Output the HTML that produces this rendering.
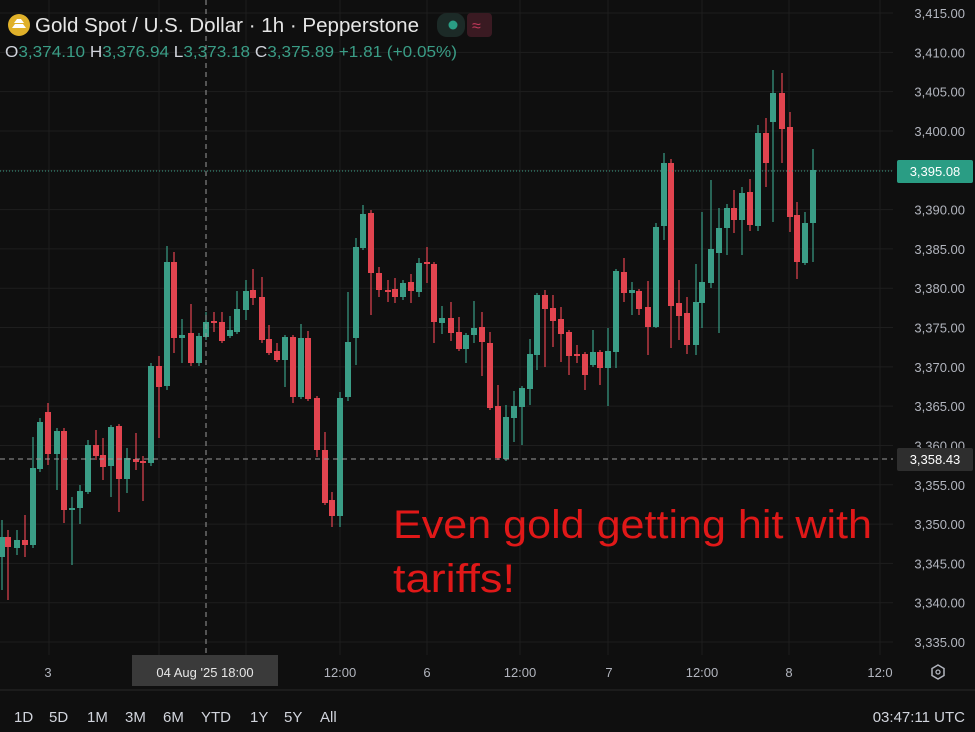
<!DOCTYPE html>
<html><head><meta charset="utf-8"><style>
body{margin:0;background:#0f0f0f;width:975px;height:732px;overflow:hidden;font-family:"Liberation Sans",sans-serif}
</style></head><body>
<svg width="975" height="732" xmlns="http://www.w3.org/2000/svg" style="position:absolute;left:0;top:0">
<rect width="975" height="732" fill="#0f0f0f"/>
<g id="grid" stroke="#1e1e1e" stroke-width="1"></g>
<g id="candles"></g>
<line x1="0" y1="171" x2="893" y2="171" stroke="#3a9d86" stroke-width="1" stroke-dasharray="1,2"/>
<line x1="0" y1="459" x2="893" y2="459" stroke="#9a9a9a" stroke-width="1" stroke-dasharray="5,4"/>
<line x1="206" y1="0" x2="206" y2="655" stroke="#9a9a9a" stroke-width="1" stroke-dasharray="5,4"/>
<g id="plabels" font-size="13" fill="#b2b5be"></g>
<rect x="897" y="160" width="76" height="23" rx="2" fill="#2a9d84"/>
<text x="935" y="176" font-size="13" fill="#fff" text-anchor="middle">3,395.08</text>
<rect x="897" y="448" width="76" height="23" rx="2" fill="#2e2e2e"/>
<text x="935" y="464" font-size="13" fill="#fff" text-anchor="middle">3,358.43</text>
<line x1="0" y1="690" x2="975" y2="690" stroke="#2a2a2a"/>
<g font-size="13" fill="#b2b5be" text-anchor="middle">
<text x="48" y="677">3</text><text x="340" y="677">12:00</text><text x="427" y="677">6</text>
<text x="520" y="677">12:00</text><text x="609" y="677">7</text><text x="702" y="677">12:00</text>
<text x="789" y="677">8</text><text x="880" y="677">12:0</text>
</g>
<rect x="132" y="655" width="146" height="31" fill="#3a3a3a"/>
<text x="205" y="677" font-size="13" fill="#e6e6e6" text-anchor="middle">04 Aug '25   18:00</text>
<polygon points="938,665 944,668.5 944,675.5 938,679 932,675.5 932,668.5" fill="none" stroke="#b2b5be" stroke-width="1.5"/>
<circle cx="938" cy="672" r="2" fill="none" stroke="#b2b5be" stroke-width="1.3"/>
<g font-size="15" fill="#d1d4dc">
<text x="14" y="722">1D</text><text x="49" y="722">5D</text><text x="87" y="722">1M</text><text x="125" y="722">3M</text>
<text x="163" y="722">6M</text><text x="201" y="722">YTD</text><text x="250" y="722">1Y</text><text x="284" y="722">5Y</text><text x="320" y="722">All</text>
<text x="965" y="722" text-anchor="end">03:47:11 UTC</text>
</g>
<circle cx="19" cy="25" r="11" fill="#e0b12a"/>
<path d="M12 28 L26 28 L23 24 L15 24 Z M14 23 L24 23 L21 19 L17 19 Z" fill="#fff"/>
<text x="35" y="32" font-size="20" fill="#e6e6e6" textLength="384" lengthAdjust="spacingAndGlyphs">Gold Spot / U.S. Dollar · 1h · Pepperstone</text>
<rect x="437" y="13" width="28" height="24" rx="10" fill="#1c2a27"/>
<circle cx="453" cy="25" r="4.5" fill="#2a9d84"/>
<rect x="467" y="13" width="25" height="24" rx="4" fill="#3a1a22"/>
<text x="472" y="31" font-size="16" fill="#c0385a">≈</text>
<text x="5" y="57" font-size="16" fill="#3a9d86" textLength="452" lengthAdjust="spacingAndGlyphs"><tspan fill="#d1d4dc">O</tspan>3,374.10 <tspan fill="#d1d4dc">H</tspan>3,376.94 <tspan fill="#d1d4dc">L</tspan>3,373.18 <tspan fill="#d1d4dc">C</tspan>3,375.89 +1.81 (+0.05%)</text>
<text x="393" y="538" font-size="40" fill="#e01818" textLength="479" lengthAdjust="spacingAndGlyphs">Even gold getting hit with</text>
<text x="393" y="592" font-size="40" fill="#e01818" textLength="122" lengthAdjust="spacingAndGlyphs">tariffs!</text>
</svg>
<script>
var ns="http://www.w3.org/2000/svg";
function el(p,t,a){var e=document.createElementNS(ns,t);for(var k in a)e.setAttribute(k,a[k]);p.appendChild(e);return e;}
var g=document.getElementById('grid'),pl=document.getElementById('plabels');
[49,159,246,340,427,520,608,702,789,880].forEach(function(x){el(g,'line',{x1:x,y1:0,x2:x,y2:655});});
for(var i=0;i<=16;i++){var p=3415-5*i,y=13+i*39.3125;el(g,'line',{x1:0,y1:y,x2:893,y2:y});
var t=el(pl,'text',{x:965,y:y+5,'text-anchor':'end'});t.textContent=(p+'').replace(/(\d)(\d{3})$/,'$1,$2')+'.00';}
var D=[[2,557,537,520,590],[8,537,547,530,600],[17,548,540,530,555],[25,540,545,515,557],[33,545,468,437,548],[40,469,422,418,472],[48,412,454,403,465],[57,454,431,428,490],[64,431,510,428,523],[72,509,508,497,565],[80,508,491,485,524],[88,492,445,440,494],[96,445,456,430,460],[103,455,467,438,480],[111,466,427,425,497],[119,426,479,424,512],[127,479,458,448,493],[136,459,462,433,470],[143,461,463,456,501],[151,463,366,363,466],
[159,366,387,356,438],[167,386,262,246,390],[174,262,338,252,353],[182,338,335,319,363],[191,333,363,304,366],[199,363,336,333,366],[206,337,322,312,340],[214,321,321,312,332],[222,322,341,312,343],[230,336,330,316,338],[237,332,309,291,334],[246,310,291,280,320],[253,290,298,269,305],[262,297,340,277,343],[269,339,353,325,355],[277,351,360,343,362],[285,360,337,335,387],[293,337,397,335,403],[301,397,338,324,399],[308,338,399,331,401],[317,398,450,396,457],[325,450,503,432,505],[332,500,516,492,527],[340,516,398,392,527],[348,397,342,292,401],[356,338,247,238,365],[363,248,214,205,250],[371,213,273,210,315],
[379,273,290,267,297],[388,290,290,280,302],[395,289,297,278,303],[403,297,283,280,300],[411,282,291,274,303],[419,292,263,258,297],[427,262,262,247,283],[434,264,322,262,343],[442,323,318,306,334],[451,318,333,302,341],[459,332,349,317,351],[466,349,335,333,363],[474,335,328,301,343],[482,327,342,312,376],[490,343,408,332,410],[498,406,458,385,460],[506,459,417,405,461],[514,418,406,391,442],[522,407,388,386,445],[530,389,354,339,405],[537,355,295,293,370],[545,295,309,290,367],[553,308,321,295,347],[561,319,334,307,362],[569,332,356,330,375],[577,354,354,345,363],[585,354,375,352,390],[593,365,352,330,367],[600,352,368,350,385],[608,368,351,328,406],[616,352,271,269,368],[624,272,293,258,302],[632,293,290,282,315],[639,291,309,289,315],[648,307,327,281,355],[656,327,227,223,328],[664,226,163,153,240],[671,163,306,159,348],[679,303,316,280,340],[687,313,345,297,354],[696,345,302,264,355],[702,303,282,212,328],[711,283,249,180,288],[719,253,228,208,333],[727,228,208,204,255],[734,208,220,190,233],[742,220,193,187,255],[750,192,225,179,231],[758,226,133,125,231],[766,133,163,118,187],[773,122,93,70,222],[782,93,129,73,163],[790,127,217,112,232],[797,215,262,202,279],[805,263,223,212,265],[813,223,170,149,262]];
var c=document.getElementById('candles');
D.forEach(function(d){var up=d[2]<d[1],col=up?'#3a9d86':'#e2444f';
el(c,'line',{x1:d[0],y1:d[3],x2:d[0],y2:d[4],stroke:col,'stroke-width':1.2});
var t=Math.min(d[1],d[2]),h=Math.max(2,Math.abs(d[1]-d[2]));
el(c,'rect',{x:d[0]-3,y:t,width:6,height:h,fill:col});});
</script>
</body></html>
